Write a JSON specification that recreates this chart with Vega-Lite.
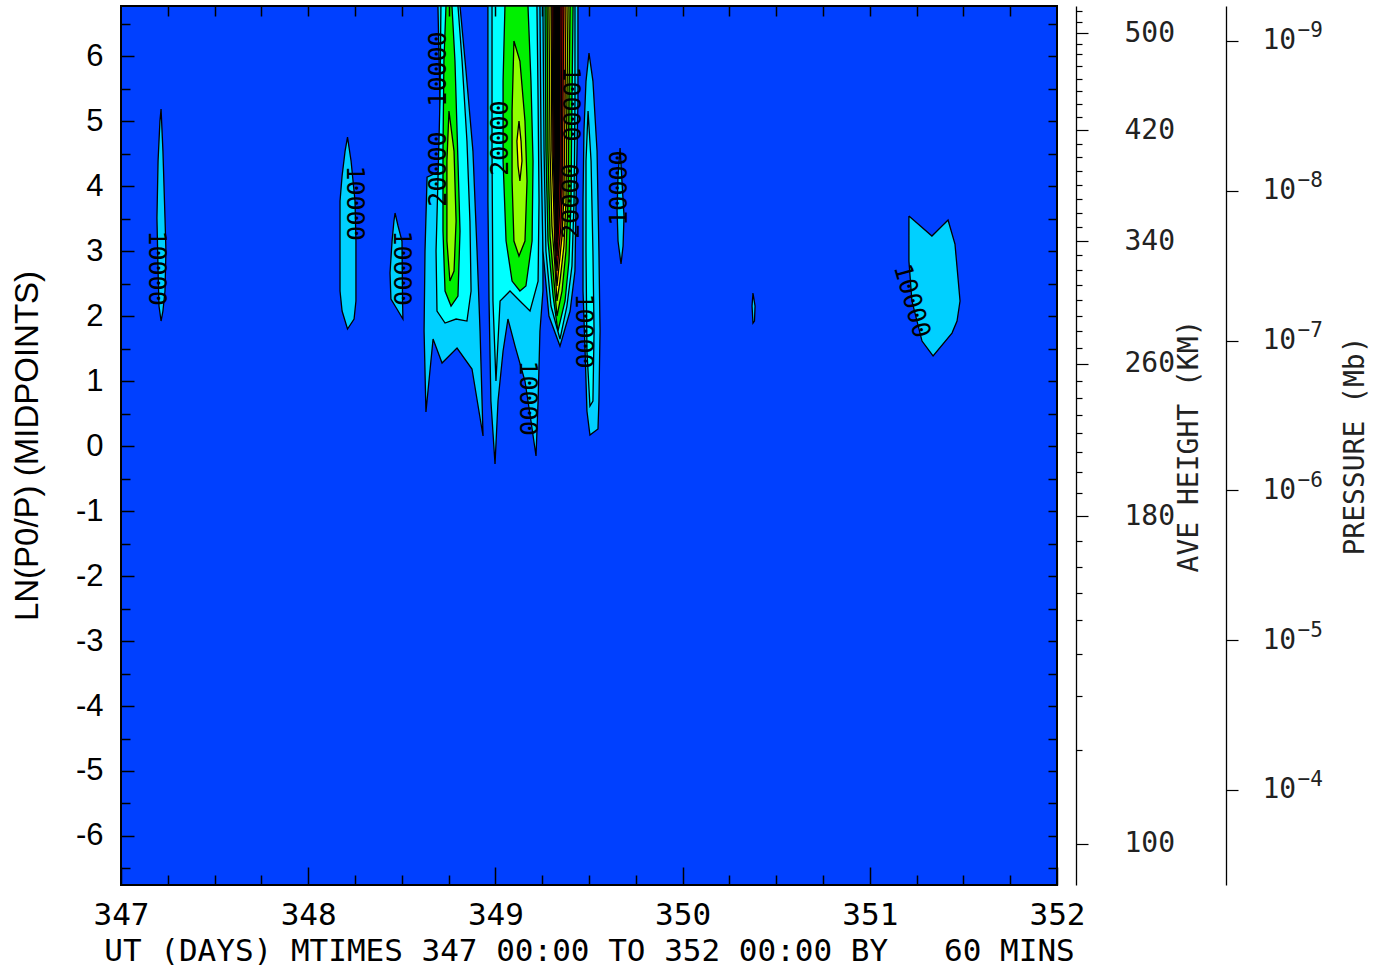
{
"$schema": "https://vega.github.io/schema/vega-lite/v6.json",
"background": "white",
"padding": {"left": 11, "top": 5, "right": 5, "bottom": 5},
"width": 936,
"height": 879,
"view": {"fill": "#0040FF", "stroke": "black", "strokeWidth": 2},
"datasets": {
"contours": [
{"poly":"b1","level":1,"i":0,"day":347.214,"ln":5.185},{"poly":"b1","level":1,"i":1,"day":347.224,"ln":4.538},{"poly":"b1","level":1,"i":2,"day":347.235,"ln":3.508},{"poly":"b1","level":1,"i":3,"day":347.240,"ln":3.0},{"poly":"b1","level":1,"i":4,"day":347.235,"ln":2.385},{"poly":"b1","level":1,"i":5,"day":347.224,"ln":2.077},{"poly":"b1","level":1,"i":6,"day":347.214,"ln":1.923},{"poly":"b1","level":1,"i":7,"day":347.203,"ln":2.154},{"poly":"b1","level":1,"i":8,"day":347.198,"ln":2.692},{"poly":"b1","level":1,"i":9,"day":347.192,"ln":3.508},{"poly":"b1","level":1,"i":10,"day":347.198,"ln":4.385},{"poly":"b1","level":1,"i":11,"day":347.208,"ln":5.0},{"poly":"b1","level":1,"i":12,"day":347.214,"ln":5.185},
{"poly":"b2","level":1,"i":0,"day":348.210,"ln":4.754},{"poly":"b2","level":1,"i":1,"day":348.229,"ln":4.385},{"poly":"b2","level":1,"i":2,"day":348.250,"ln":3.769},{"poly":"b2","level":1,"i":3,"day":348.255,"ln":3.154},{"poly":"b2","level":1,"i":4,"day":348.255,"ln":2.231},{"poly":"b2","level":1,"i":5,"day":348.245,"ln":1.954},{"poly":"b2","level":1,"i":6,"day":348.210,"ln":1.8},{"poly":"b2","level":1,"i":7,"day":348.181,"ln":2.077},{"poly":"b2","level":1,"i":8,"day":348.170,"ln":2.385},{"poly":"b2","level":1,"i":9,"day":348.170,"ln":3.769},{"poly":"b2","level":1,"i":10,"day":348.181,"ln":4.154},{"poly":"b2","level":1,"i":11,"day":348.197,"ln":4.538},{"poly":"b2","level":1,"i":12,"day":348.210,"ln":4.754},
{"poly":"b3","level":1,"i":0,"day":348.464,"ln":3.585},{"poly":"b3","level":1,"i":1,"day":348.480,"ln":3.385},{"poly":"b3","level":1,"i":2,"day":348.501,"ln":3.154},{"poly":"b3","level":1,"i":3,"day":348.504,"ln":2.231},{"poly":"b3","level":1,"i":4,"day":348.506,"ln":1.954},{"poly":"b3","level":1,"i":5,"day":348.474,"ln":2.108},{"poly":"b3","level":1,"i":6,"day":348.442,"ln":2.262},{"poly":"b3","level":1,"i":7,"day":348.437,"ln":2.662},{"poly":"b3","level":1,"i":8,"day":348.448,"ln":3.154},{"poly":"b3","level":1,"i":9,"day":348.458,"ln":3.462},{"poly":"b3","level":1,"i":10,"day":348.464,"ln":3.585},
{"poly":"b4a","level":1,"i":0,"day":348.693,"ln":6.769},{"poly":"b4a","level":1,"i":1,"day":348.811,"ln":6.769},{"poly":"b4a","level":1,"i":2,"day":348.843,"ln":5.769},{"poly":"b4a","level":1,"i":3,"day":348.880,"ln":4.538},{"poly":"b4a","level":1,"i":4,"day":348.902,"ln":3.0},{"poly":"b4a","level":1,"i":5,"day":348.918,"ln":1.769},{"poly":"b4a","level":1,"i":6,"day":348.934,"ln":0.154},{"poly":"b4a","level":1,"i":7,"day":348.875,"ln":1.185},{"poly":"b4a","level":1,"i":8,"day":348.795,"ln":1.508},{"poly":"b4a","level":1,"i":9,"day":348.715,"ln":1.277},{"poly":"b4a","level":1,"i":10,"day":348.667,"ln":1.646},{"poly":"b4a","level":1,"i":11,"day":348.629,"ln":0.523},{"poly":"b4a","level":1,"i":12,"day":348.619,"ln":1.769},{"poly":"b4a","level":1,"i":13,"day":348.624,"ln":3.0},{"poly":"b4a","level":1,"i":14,"day":348.635,"ln":4.138},{"poly":"b4a","level":1,"i":15,"day":348.704,"ln":4.231},{"poly":"b4a","level":1,"i":16,"day":348.704,"ln":5.308},{"poly":"b4a","level":1,"i":17,"day":348.693,"ln":6.769},
{"poly":"b4b","level":2,"i":0,"day":348.709,"ln":6.769},{"poly":"b4b","level":2,"i":1,"day":348.800,"ln":6.769},{"poly":"b4b","level":2,"i":2,"day":348.822,"ln":5.923},{"poly":"b4b","level":2,"i":3,"day":348.848,"ln":4.692},{"poly":"b4b","level":2,"i":4,"day":348.864,"ln":3.462},{"poly":"b4b","level":2,"i":5,"day":348.870,"ln":2.385},{"poly":"b4b","level":2,"i":6,"day":348.848,"ln":1.923},{"poly":"b4b","level":2,"i":7,"day":348.790,"ln":1.954},{"poly":"b4b","level":2,"i":8,"day":348.731,"ln":1.892},{"poly":"b4b","level":2,"i":9,"day":348.688,"ln":2.077},{"poly":"b4b","level":2,"i":10,"day":348.683,"ln":3.0},{"poly":"b4b","level":2,"i":11,"day":348.693,"ln":4.077},{"poly":"b4b","level":2,"i":12,"day":348.704,"ln":5.308},{"poly":"b4b","level":2,"i":13,"day":348.709,"ln":6.769},
{"poly":"b4c","level":3,"i":0,"day":348.736,"ln":6.769},{"poly":"b4c","level":3,"i":1,"day":348.768,"ln":6.769},{"poly":"b4c","level":3,"i":2,"day":348.784,"ln":5.923},{"poly":"b4c","level":3,"i":3,"day":348.800,"ln":4.385},{"poly":"b4c","level":3,"i":4,"day":348.811,"ln":3.308},{"poly":"b4c","level":3,"i":5,"day":348.800,"ln":2.308},{"poly":"b4c","level":3,"i":6,"day":348.763,"ln":2.154},{"poly":"b4c","level":3,"i":7,"day":348.731,"ln":2.385},{"poly":"b4c","level":3,"i":8,"day":348.720,"ln":3.308},{"poly":"b4c","level":3,"i":9,"day":348.720,"ln":4.538},{"poly":"b4c","level":3,"i":10,"day":348.725,"ln":5.923},{"poly":"b4c","level":3,"i":11,"day":348.736,"ln":6.769},
{"poly":"b4d","level":4,"i":0,"day":348.752,"ln":5.154},{"poly":"b4d","level":4,"i":1,"day":348.779,"ln":4.538},{"poly":"b4d","level":4,"i":2,"day":348.790,"ln":3.462},{"poly":"b4d","level":4,"i":3,"day":348.779,"ln":2.692},{"poly":"b4d","level":4,"i":4,"day":348.757,"ln":2.538},{"poly":"b4d","level":4,"i":5,"day":348.741,"ln":3.154},{"poly":"b4d","level":4,"i":6,"day":348.741,"ln":4.385},{"poly":"b4d","level":4,"i":7,"day":348.752,"ln":5.154},
{"poly":"b5a","level":1,"i":0,"day":348.960,"ln":6.769},{"poly":"b5a","level":1,"i":1,"day":349.244,"ln":6.769},{"poly":"b5a","level":1,"i":2,"day":349.249,"ln":5.308},{"poly":"b5a","level":1,"i":3,"day":349.254,"ln":3.769},{"poly":"b5a","level":1,"i":4,"day":349.254,"ln":2.385},{"poly":"b5a","level":1,"i":5,"day":349.238,"ln":1.769},{"poly":"b5a","level":1,"i":6,"day":349.228,"ln":0.692},{"poly":"b5a","level":1,"i":7,"day":349.217,"ln":-0.154},{"poly":"b5a","level":1,"i":8,"day":349.190,"ln":0.385},{"poly":"b5a","level":1,"i":9,"day":349.158,"ln":1.0},{"poly":"b5a","level":1,"i":10,"day":349.105,"ln":1.538},{"poly":"b5a","level":1,"i":11,"day":349.067,"ln":1.954},{"poly":"b5a","level":1,"i":12,"day":349.041,"ln":1.462},{"poly":"b5a","level":1,"i":13,"day":349.014,"ln":0.692},{"poly":"b5a","level":1,"i":14,"day":348.998,"ln":-0.277},{"poly":"b5a","level":1,"i":15,"day":348.976,"ln":0.692},{"poly":"b5a","level":1,"i":16,"day":348.966,"ln":2.231},{"poly":"b5a","level":1,"i":17,"day":348.960,"ln":3.769},{"poly":"b5a","level":1,"i":18,"day":348.960,"ln":5.308},{"poly":"b5a","level":1,"i":19,"day":348.960,"ln":6.769},
{"poly":"b5b","level":2,"i":0,"day":348.982,"ln":6.769},{"poly":"b5b","level":2,"i":1,"day":349.222,"ln":6.769},{"poly":"b5b","level":2,"i":2,"day":349.228,"ln":5.308},{"poly":"b5b","level":2,"i":3,"day":349.233,"ln":3.769},{"poly":"b5b","level":2,"i":4,"day":349.228,"ln":2.538},{"poly":"b5b","level":2,"i":5,"day":349.185,"ln":2.077},{"poly":"b5b","level":2,"i":6,"day":349.131,"ln":2.231},{"poly":"b5b","level":2,"i":7,"day":349.078,"ln":2.385},{"poly":"b5b","level":2,"i":8,"day":349.025,"ln":2.231},{"poly":"b5b","level":2,"i":9,"day":349.003,"ln":1.0},{"poly":"b5b","level":2,"i":10,"day":348.987,"ln":2.231},{"poly":"b5b","level":2,"i":11,"day":348.982,"ln":4.538},{"poly":"b5b","level":2,"i":12,"day":348.982,"ln":6.769},
{"poly":"b5c","level":3,"i":0,"day":349.051,"ln":6.769},{"poly":"b5c","level":3,"i":1,"day":349.174,"ln":6.769},{"poly":"b5c","level":3,"i":2,"day":349.190,"ln":5.615},{"poly":"b5c","level":3,"i":3,"day":349.201,"ln":4.385},{"poly":"b5c","level":3,"i":4,"day":349.196,"ln":3.154},{"poly":"b5c","level":3,"i":5,"day":349.163,"ln":2.462},{"poly":"b5c","level":3,"i":6,"day":349.131,"ln":2.385},{"poly":"b5c","level":3,"i":7,"day":349.089,"ln":2.538},{"poly":"b5c","level":3,"i":8,"day":349.057,"ln":3.154},{"poly":"b5c","level":3,"i":9,"day":349.041,"ln":4.385},{"poly":"b5c","level":3,"i":10,"day":349.041,"ln":5.615},{"poly":"b5c","level":3,"i":11,"day":349.051,"ln":6.769},
{"poly":"b5d","level":4,"i":0,"day":349.099,"ln":6.231},{"poly":"b5d","level":4,"i":1,"day":349.131,"ln":5.923},{"poly":"b5d","level":4,"i":2,"day":349.158,"ln":5.0},{"poly":"b5d","level":4,"i":3,"day":349.169,"ln":4.077},{"poly":"b5d","level":4,"i":4,"day":349.158,"ln":3.154},{"poly":"b5d","level":4,"i":5,"day":349.126,"ln":2.923},{"poly":"b5d","level":4,"i":6,"day":349.099,"ln":3.154},{"poly":"b5d","level":4,"i":7,"day":349.089,"ln":4.077},{"poly":"b5d","level":4,"i":8,"day":349.089,"ln":5.154},{"poly":"b5d","level":4,"i":9,"day":349.099,"ln":6.231},
{"poly":"b5e","level":5,"i":0,"day":349.126,"ln":5.0},{"poly":"b5e","level":5,"i":1,"day":349.137,"ln":4.692},{"poly":"b5e","level":5,"i":2,"day":349.142,"ln":4.385},{"poly":"b5e","level":5,"i":3,"day":349.131,"ln":4.077},{"poly":"b5e","level":5,"i":4,"day":349.121,"ln":4.308},{"poly":"b5e","level":5,"i":5,"day":349.115,"ln":4.692},{"poly":"b5e","level":5,"i":6,"day":349.126,"ln":5.0},
{"poly":"b6a","level":1,"i":0,"day":349.238,"ln":6.769},{"poly":"b6a","level":1,"i":1,"day":349.441,"ln":6.769},{"poly":"b6a","level":1,"i":2,"day":349.441,"ln":5.308},{"poly":"b6a","level":1,"i":3,"day":349.431,"ln":3.769},{"poly":"b6a","level":1,"i":4,"day":349.425,"ln":2.692},{"poly":"b6a","level":1,"i":5,"day":349.399,"ln":2.077},{"poly":"b6a","level":1,"i":6,"day":349.345,"ln":1.538},{"poly":"b6a","level":1,"i":7,"day":349.286,"ln":2.0},{"poly":"b6a","level":1,"i":8,"day":349.254,"ln":3.0},{"poly":"b6a","level":1,"i":9,"day":349.244,"ln":4.538},{"poly":"b6a","level":1,"i":10,"day":349.238,"ln":6.769},
{"poly":"b6b","level":2,"i":0,"day":349.254,"ln":6.769},{"poly":"b6b","level":2,"i":1,"day":349.425,"ln":6.769},{"poly":"b6b","level":2,"i":2,"day":349.425,"ln":5.308},{"poly":"b6b","level":2,"i":3,"day":349.420,"ln":3.769},{"poly":"b6b","level":2,"i":4,"day":349.409,"ln":2.769},{"poly":"b6b","level":2,"i":5,"day":349.382,"ln":2.154},{"poly":"b6b","level":2,"i":6,"day":349.345,"ln":1.646},{"poly":"b6b","level":2,"i":7,"day":349.297,"ln":2.154},{"poly":"b6b","level":2,"i":8,"day":349.270,"ln":3.0},{"poly":"b6b","level":2,"i":9,"day":349.260,"ln":4.538},{"poly":"b6b","level":2,"i":10,"day":349.254,"ln":6.769},
{"poly":"b6c","level":3,"i":0,"day":349.265,"ln":6.769},{"poly":"b6c","level":3,"i":1,"day":349.415,"ln":6.769},{"poly":"b6c","level":3,"i":2,"day":349.409,"ln":5.308},{"poly":"b6c","level":3,"i":3,"day":349.404,"ln":3.769},{"poly":"b6c","level":3,"i":4,"day":349.393,"ln":2.846},{"poly":"b6c","level":3,"i":5,"day":349.372,"ln":2.231},{"poly":"b6c","level":3,"i":6,"day":349.334,"ln":1.769},{"poly":"b6c","level":3,"i":7,"day":349.308,"ln":2.308},{"poly":"b6c","level":3,"i":8,"day":349.281,"ln":3.154},{"poly":"b6c","level":3,"i":9,"day":349.270,"ln":4.538},{"poly":"b6c","level":3,"i":10,"day":349.265,"ln":6.769},
{"poly":"b6d","level":4,"i":0,"day":349.276,"ln":6.769},{"poly":"b6d","level":4,"i":1,"day":349.399,"ln":6.769},{"poly":"b6d","level":4,"i":2,"day":349.393,"ln":5.308},{"poly":"b6d","level":4,"i":3,"day":349.388,"ln":3.769},{"poly":"b6d","level":4,"i":4,"day":349.377,"ln":3.0},{"poly":"b6d","level":4,"i":5,"day":349.356,"ln":2.385},{"poly":"b6d","level":4,"i":6,"day":349.329,"ln":2.0},{"poly":"b6d","level":4,"i":7,"day":349.313,"ln":2.538},{"poly":"b6d","level":4,"i":8,"day":349.292,"ln":3.231},{"poly":"b6d","level":4,"i":9,"day":349.281,"ln":4.538},{"poly":"b6d","level":4,"i":10,"day":349.276,"ln":6.769},
{"poly":"b6e","level":5,"i":0,"day":349.286,"ln":6.769},{"poly":"b6e","level":5,"i":1,"day":349.388,"ln":6.769},{"poly":"b6e","level":5,"i":2,"day":349.382,"ln":5.308},{"poly":"b6e","level":5,"i":3,"day":349.377,"ln":3.769},{"poly":"b6e","level":5,"i":4,"day":349.366,"ln":3.077},{"poly":"b6e","level":5,"i":5,"day":349.345,"ln":2.538},{"poly":"b6e","level":5,"i":6,"day":349.329,"ln":2.231},{"poly":"b6e","level":5,"i":7,"day":349.318,"ln":2.769},{"poly":"b6e","level":5,"i":8,"day":349.302,"ln":3.385},{"poly":"b6e","level":5,"i":9,"day":349.292,"ln":4.538},{"poly":"b6e","level":5,"i":10,"day":349.286,"ln":6.769},
{"poly":"b6f","level":6,"i":0,"day":349.297,"ln":6.769},{"poly":"b6f","level":6,"i":1,"day":349.377,"ln":6.769},{"poly":"b6f","level":6,"i":2,"day":349.372,"ln":5.308},{"poly":"b6f","level":6,"i":3,"day":349.366,"ln":3.846},{"poly":"b6f","level":6,"i":4,"day":349.356,"ln":3.231},{"poly":"b6f","level":6,"i":5,"day":349.340,"ln":2.769},{"poly":"b6f","level":6,"i":6,"day":349.329,"ln":2.462},{"poly":"b6f","level":6,"i":7,"day":349.318,"ln":3.0},{"poly":"b6f","level":6,"i":8,"day":349.313,"ln":3.538},{"poly":"b6f","level":6,"i":9,"day":349.302,"ln":4.538},{"poly":"b6f","level":6,"i":10,"day":349.297,"ln":6.769},
{"poly":"b6g","level":7,"i":0,"day":349.302,"ln":6.769},{"poly":"b6g","level":7,"i":1,"day":349.366,"ln":6.769},{"poly":"b6g","level":7,"i":2,"day":349.361,"ln":5.308},{"poly":"b6g","level":7,"i":3,"day":349.356,"ln":3.923},{"poly":"b6g","level":7,"i":4,"day":349.350,"ln":3.385},{"poly":"b6g","level":7,"i":5,"day":349.329,"ln":2.692},{"poly":"b6g","level":7,"i":6,"day":349.318,"ln":3.231},{"poly":"b6g","level":7,"i":7,"day":349.318,"ln":3.692},{"poly":"b6g","level":7,"i":8,"day":349.308,"ln":4.538},{"poly":"b6g","level":7,"i":9,"day":349.302,"ln":6.769},
{"poly":"b6h","level":8,"i":0,"day":349.308,"ln":6.769},{"poly":"b6h","level":8,"i":1,"day":349.356,"ln":6.769},{"poly":"b6h","level":8,"i":2,"day":349.353,"ln":5.308},{"poly":"b6h","level":8,"i":3,"day":349.350,"ln":4.0},{"poly":"b6h","level":8,"i":4,"day":349.340,"ln":3.462},{"poly":"b6h","level":8,"i":5,"day":349.329,"ln":2.923},{"poly":"b6h","level":8,"i":6,"day":349.321,"ln":3.462},{"poly":"b6h","level":8,"i":7,"day":349.318,"ln":3.923},{"poly":"b6h","level":8,"i":8,"day":349.313,"ln":4.538},{"poly":"b6h","level":8,"i":9,"day":349.308,"ln":6.769},
{"poly":"b6i","level":9,"i":0,"day":349.313,"ln":6.769},{"poly":"b6i","level":9,"i":1,"day":349.345,"ln":6.769},{"poly":"b6i","level":9,"i":2,"day":349.345,"ln":5.308},{"poly":"b6i","level":9,"i":3,"day":349.340,"ln":4.077},{"poly":"b6i","level":9,"i":4,"day":349.329,"ln":3.154},{"poly":"b6i","level":9,"i":5,"day":349.321,"ln":3.923},{"poly":"b6i","level":9,"i":6,"day":349.318,"ln":4.538},{"poly":"b6i","level":9,"i":7,"day":349.313,"ln":6.769},
{"poly":"b7a","level":1,"i":0,"day":349.500,"ln":6.046},{"poly":"b7a","level":1,"i":1,"day":349.521,"ln":5.615},{"poly":"b7a","level":1,"i":2,"day":349.543,"ln":4.538},{"poly":"b7a","level":1,"i":3,"day":349.553,"ln":3.0},{"poly":"b7a","level":1,"i":4,"day":349.559,"ln":1.769},{"poly":"b7a","level":1,"i":5,"day":349.553,"ln":0.692},{"poly":"b7a","level":1,"i":6,"day":349.548,"ln":0.262},{"poly":"b7a","level":1,"i":7,"day":349.505,"ln":0.169},{"poly":"b7a","level":1,"i":8,"day":349.489,"ln":0.538},{"poly":"b7a","level":1,"i":9,"day":349.479,"ln":1.462},{"poly":"b7a","level":1,"i":10,"day":349.468,"ln":2.385},{"poly":"b7a","level":1,"i":11,"day":349.468,"ln":3.769},{"poly":"b7a","level":1,"i":12,"day":349.473,"ln":4.846},{"poly":"b7a","level":1,"i":13,"day":349.484,"ln":5.615},{"poly":"b7a","level":1,"i":14,"day":349.500,"ln":6.046},
{"poly":"b7b","level":2,"i":0,"day":349.495,"ln":5.154},{"poly":"b7b","level":2,"i":1,"day":349.511,"ln":4.385},{"poly":"b7b","level":2,"i":2,"day":349.521,"ln":3.0},{"poly":"b7b","level":2,"i":3,"day":349.527,"ln":1.769},{"poly":"b7b","level":2,"i":4,"day":349.521,"ln":0.692},{"poly":"b7b","level":2,"i":5,"day":349.505,"ln":0.615},{"poly":"b7b","level":2,"i":6,"day":349.489,"ln":1.462},{"poly":"b7b","level":2,"i":7,"day":349.484,"ln":3.0},{"poly":"b7b","level":2,"i":8,"day":349.484,"ln":4.385},{"poly":"b7b","level":2,"i":9,"day":349.495,"ln":5.154},
{"poly":"b8","level":1,"i":0,"day":349.666,"ln":4.585},{"poly":"b8","level":1,"i":1,"day":349.676,"ln":4.077},{"poly":"b8","level":1,"i":2,"day":349.687,"ln":3.538},{"poly":"b8","level":1,"i":3,"day":349.682,"ln":3.077},{"poly":"b8","level":1,"i":4,"day":349.671,"ln":2.8},{"poly":"b8","level":1,"i":5,"day":349.655,"ln":3.154},{"poly":"b8","level":1,"i":6,"day":349.650,"ln":3.615},{"poly":"b8","level":1,"i":7,"day":349.655,"ln":4.154},{"poly":"b8","level":1,"i":8,"day":349.666,"ln":4.585},
{"poly":"b9","level":1,"i":0,"day":350.376,"ln":2.354},{"poly":"b9","level":1,"i":1,"day":350.387,"ln":2.154},{"poly":"b9","level":1,"i":2,"day":350.384,"ln":1.923},{"poly":"b9","level":1,"i":3,"day":350.376,"ln":1.892},{"poly":"b9","level":1,"i":4,"day":350.371,"ln":2.154},{"poly":"b9","level":1,"i":5,"day":350.376,"ln":2.354},
{"poly":"b10","level":1,"i":0,"day":351.209,"ln":3.538},{"poly":"b10","level":1,"i":1,"day":351.332,"ln":3.231},{"poly":"b10","level":1,"i":2,"day":351.418,"ln":3.477},{"poly":"b10","level":1,"i":3,"day":351.455,"ln":3.108},{"poly":"b10","level":1,"i":4,"day":351.482,"ln":2.231},{"poly":"b10","level":1,"i":5,"day":351.466,"ln":1.923},{"poly":"b10","level":1,"i":6,"day":351.439,"ln":1.738},{"poly":"b10","level":1,"i":7,"day":351.338,"ln":1.385},{"poly":"b10","level":1,"i":8,"day":351.279,"ln":1.615},{"poly":"b10","level":1,"i":9,"day":351.225,"ln":2.231},{"poly":"b10","level":1,"i":10,"day":351.209,"ln":2.846},{"poly":"b10","level":1,"i":11,"day":351.209,"ln":3.538}
],
"labels_down": [
{"day":347.192,"ln":2.738,"label":"10000"},
{"day":348.250,"ln":3.738,"label":"10000"},
{"day":348.501,"ln":2.738,"label":"10000"},
{"day":349.473,"ln":1.769,"label":"10000"},
{"day":349.174,"ln":0.738,"label":"10000"},
{"day":349.404,"ln":5.262,"label":"10000"}
],
"labels_up": [
{"day":348.693,"ln":5.8,"label":"10000"},
{"day":348.693,"ln":4.262,"label":"20000"},
{"day":349.025,"ln":4.738,"label":"20000"},
{"day":349.404,"ln":3.769,"label":"20000"},
{"day":349.660,"ln":3.969,"label":"10000"}
],
"labels_tilt": [
{"day":351.225,"ln":2.231,"label":"10000"}
],
"heights": [
{"km":100,"ln":-6.123},{"km":110,"ln":-4.677},{"km":120,"ln":-3.846},{"km":130,"ln":-3.2},{"km":140,"ln":-2.677},{"km":150,"ln":-2.262},{"km":160,"ln":-1.862},{"km":170,"ln":-1.462},{"km":180,"ln":-1.077},{"km":190,"ln":-0.723},{"km":200,"ln":-0.4},{"km":210,"ln":-0.092},{"km":220,"ln":0.2},{"km":230,"ln":0.477},{"km":240,"ln":0.746},{"km":250,"ln":1.008},{"km":260,"ln":1.262},{"km":270,"ln":1.515},{"km":280,"ln":1.763},{"km":290,"ln":2.005},{"km":300,"ln":2.242},{"km":310,"ln":2.475},{"km":320,"ln":2.706},{"km":330,"ln":2.932},{"km":340,"ln":3.154},{"km":350,"ln":3.374},{"km":360,"ln":3.591},{"km":370,"ln":3.806},{"km":380,"ln":4.02},{"km":390,"ln":4.232},{"km":400,"ln":4.443},{"km":410,"ln":4.652},{"km":420,"ln":4.862},{"km":430,"ln":5.062},{"km":440,"ln":5.266},{"km":450,"ln":5.462},{"km":460,"ln":5.646},{"km":470,"ln":5.842},{"km":480,"ln":6.026},{"km":490,"ln":6.19},{"km":500,"ln":6.354},{"km":510,"ln":6.518},{"km":520,"ln":6.692}
],
"pressures": [
{"mb":1e-9},{"mb":1e-8},{"mb":1e-7},{"mb":1e-6},{"mb":1e-5},{"mb":1e-4}
]
},
"encoding": {
"x": {"field": "day", "type": "quantitative", "scale": {"domain": [347, 352], "nice": false, "zero": false}, "axis": null},
"y": {"field": "ln", "type": "quantitative", "scale": {"domain": [-6.754, 6.77], "nice": false, "zero": false}, "axis": null}
},
"resolve": {"scale": {"y": "independent"}, "axis": {"x": "independent", "y": "independent"}},
"layer": [
{"data": {"name": "contours"}, "transform": [{"filter": "datum.level == 1"}], "mark": {"type": "line", "fill": "#00D0FF", "stroke": "black", "strokeWidth": 1.3, "clip": true}, "encoding": {"detail": {"field": "poly", "type": "nominal"}, "order": {"field": "i", "type": "quantitative"}}},
{"data": {"name": "contours"}, "transform": [{"filter": "datum.level == 2"}], "mark": {"type": "line", "fill": "#00FFFF", "stroke": "black", "strokeWidth": 1.3, "clip": true}, "encoding": {"detail": {"field": "poly", "type": "nominal"}, "order": {"field": "i", "type": "quantitative"}}},
{"data": {"name": "contours"}, "transform": [{"filter": "datum.level == 3"}], "mark": {"type": "line", "fill": "#00F000", "stroke": "black", "strokeWidth": 1.3, "clip": true}, "encoding": {"detail": {"field": "poly", "type": "nominal"}, "order": {"field": "i", "type": "quantitative"}}},
{"data": {"name": "contours"}, "transform": [{"filter": "datum.level == 4"}], "mark": {"type": "line", "fill": "#90FF00", "stroke": "black", "strokeWidth": 1.3, "clip": true}, "encoding": {"detail": {"field": "poly", "type": "nominal"}, "order": {"field": "i", "type": "quantitative"}}},
{"data": {"name": "contours"}, "transform": [{"filter": "datum.level == 5"}], "mark": {"type": "line", "fill": "#FFFF00", "stroke": "black", "strokeWidth": 1.3, "clip": true}, "encoding": {"detail": {"field": "poly", "type": "nominal"}, "order": {"field": "i", "type": "quantitative"}}},
{"data": {"name": "contours"}, "transform": [{"filter": "datum.level == 6"}], "mark": {"type": "line", "fill": "#FF8000", "stroke": "black", "strokeWidth": 1.3, "clip": true}, "encoding": {"detail": {"field": "poly", "type": "nominal"}, "order": {"field": "i", "type": "quantitative"}}},
{"data": {"name": "contours"}, "transform": [{"filter": "datum.level == 7"}], "mark": {"type": "line", "fill": "#FF0000", "stroke": "black", "strokeWidth": 1.3, "clip": true}, "encoding": {"detail": {"field": "poly", "type": "nominal"}, "order": {"field": "i", "type": "quantitative"}}},
{"data": {"name": "contours"}, "transform": [{"filter": "datum.level == 8"}], "mark": {"type": "line", "fill": "#900000", "stroke": "black", "strokeWidth": 1.3, "clip": true}, "encoding": {"detail": {"field": "poly", "type": "nominal"}, "order": {"field": "i", "type": "quantitative"}}},
{"data": {"name": "contours"}, "transform": [{"filter": "datum.level == 9"}], "mark": {"type": "line", "fill": "#000000", "stroke": "black", "strokeWidth": 1.3, "clip": true}, "encoding": {"detail": {"field": "poly", "type": "nominal"}, "order": {"field": "i", "type": "quantitative"}}},
{"data": {"name": "labels_down"}, "mark": {"type": "text", "angle": 90, "font": "DejaVu Sans Mono", "fontSize": 25, "color": "black", "align": "center", "baseline": "middle"}, "encoding": {"text": {"field": "label"}}},
{"data": {"name": "labels_up"}, "mark": {"type": "text", "angle": 270, "font": "DejaVu Sans Mono", "fontSize": 25, "color": "black", "align": "center", "baseline": "middle"}, "encoding": {"text": {"field": "label"}}},
{"data": {"name": "labels_tilt"}, "mark": {"type": "text", "angle": 74, "font": "DejaVu Sans Mono", "fontSize": 25, "color": "black", "align": "center", "baseline": "middle"}, "encoding": {"text": {"field": "label"}}},
{"data": {"values": [{"day": 347, "ln": 0}]}, "mark": {"type": "point", "opacity": 0},
"encoding": {
"x": {"field": "day", "type": "quantitative", "scale": {"domain": [347, 352], "nice": false, "zero": false},
"axis": {"orient": "bottom", "values": [347, 348, 349, 350, 351, 352], "labelExpr": "'' + datum.value", "tickSize": -18, "tickWidth": 1.5, "tickColor": "black", "domain": false, "grid": false, "labelFont": "DejaVu Sans Mono", "labelFontSize": 31, "labelColor": "black", "labelPadding": 33, "labelFlush": false, "labelOverlap": false, "labelBound": false, "title": "UT (DAYS) MTIMES 347 00:00 TO 352 00:00 BY\u00a0\u00a0\u00a060 MINS", "titleFont": "DejaVu Sans Mono", "titleFontSize": 31, "titleFontWeight": "normal", "titleColor": "black", "titlePadding": 6, "zindex": 1}},
"y": {"field": "ln", "type": "quantitative", "scale": {"domain": [-6.754, 6.77], "nice": false, "zero": false},
"axis": {"orient": "left", "values": [-6, -5, -4, -3, -2, -1, 0, 1, 2, 3, 4, 5, 6], "labelExpr": "'' + datum.value", "tickSize": -13, "tickWidth": 1.5, "tickColor": "black", "domain": false, "grid": false, "labelFont": "Liberation Sans", "labelFontSize": 31, "labelColor": "black", "labelPadding": 31, "labelOverlap": false, "labelBound": false, "title": "LN(P0/P) (MIDPOINTS)", "titleFont": "Liberation Sans", "titleFontSize": 33, "titleFontWeight": "normal", "titleColor": "black", "titlePadding": 31, "zindex": 1}}
}},
{"data": {"values": [{"day": 347, "ln": 0}]}, "mark": {"type": "point", "opacity": 0},
"encoding": {
"x": {"field": "day", "type": "quantitative", "scale": {"domain": [347, 352], "nice": false, "zero": false},
"axis": {"orient": "bottom", "values": [347.25, 347.5, 347.75, 348.25, 348.5, 348.75, 349.25, 349.5, 349.75, 350.25, 350.5, 350.75, 351.25, 351.5, 351.75], "tickSize": -10, "tickWidth": 1.5, "tickColor": "black", "domain": false, "grid": false, "labels": false, "title": null, "zindex": 1}},
"y": {"field": "ln", "type": "quantitative", "scale": {"domain": [-6.754, 6.77], "nice": false, "zero": false},
"axis": {"orient": "left", "values": [-6.5, -5.5, -4.5, -3.5, -2.5, -1.5, -0.5, 0.5, 1.5, 2.5, 3.5, 4.5, 5.5, 6.5], "tickSize": -9, "tickWidth": 1.5, "tickColor": "black", "domain": false, "grid": false, "labels": false, "title": null, "zindex": 1}}
}},
{"data": {"values": [{"day": 347, "ln": 0}]}, "mark": {"type": "point", "opacity": 0},
"encoding": {
"x": {"field": "day", "type": "quantitative", "scale": {"domain": [347, 352], "nice": false, "zero": false},
"axis": {"orient": "top", "values": [347.25, 347.5, 347.75, 348, 348.25, 348.5, 348.75, 349, 349.25, 349.5, 349.75, 350, 350.25, 350.5, 350.75, 351, 351.25, 351.5, 351.75], "tickSize": -10, "tickWidth": 1.5, "tickColor": "black", "domain": false, "grid": false, "labels": false, "title": null, "zindex": 1}},
"y": {"field": "ln", "type": "quantitative", "scale": {"domain": [-6.754, 6.77], "nice": false, "zero": false},
"axis": {"orient": "right", "values": [-6.5, -6, -5.5, -5, -4.5, -4, -3.5, -3, -2.5, -2, -1.5, -1, -0.5, 0, 0.5, 1, 1.5, 2, 2.5, 3, 3.5, 4, 4.5, 5, 5.5, 6, 6.5], "tickSize": -9, "tickWidth": 1.5, "tickColor": "black", "domain": false, "grid": false, "labels": false, "title": null, "zindex": 1}}
}},
{"data": {"name": "heights"}, "mark": {"type": "point", "opacity": 0},
"encoding": {
"x": {"value": 0},
"y": {"field": "ln", "type": "quantitative", "scale": {"domain": [-6.754, 6.77], "nice": false, "zero": false},
"axis": {"orient": "right", "offset": 19, "values": [-6.123, -1.077, 1.262, 3.154, 4.862, 6.354], "labelExpr": "['100','180','260','340','420','500'][indexof([-6.123, -1.077, 1.262, 3.154, 4.862, 6.354], datum.value)]", "tickSize": 12, "tickWidth": 1.2, "tickColor": "black", "domain": true, "domainColor": "black", "domainWidth": 1.3, "grid": false, "labelFont": "DejaVu Sans Mono", "labelFontSize": 28, "labelColor": "#222222", "labelPadding": 36, "labelOverlap": false, "labelBound": false, "title": "AVE HEIGHT (KM)", "titleFont": "DejaVu Sans Mono", "titleFontSize": 28, "titleFontWeight": "normal", "titleColor": "#222222", "titleAngle": 270, "titleBaseline": "top", "titlePadding": 1}}
}},
{"data": {"name": "heights"}, "mark": {"type": "point", "opacity": 0},
"encoding": {
"x": {"value": 0},
"y": {"field": "ln", "type": "quantitative", "scale": {"domain": [-6.754, 6.77], "nice": false, "zero": false},
"axis": {"orient": "right", "offset": 19, "values": [-4.677, -3.846, -3.2, -2.677, -2.262, -1.862, -1.462, -0.723, -0.4, -0.092, 0.2, 0.477, 0.746, 1.008, 1.515, 1.763, 2.005, 2.242, 2.475, 2.706, 2.932, 3.374, 3.591, 3.806, 4.02, 4.232, 4.443, 4.652, 5.062, 5.266, 5.462, 5.646, 5.842, 6.026, 6.19, 6.518, 6.692], "tickSize": 6, "tickWidth": 1.2, "tickColor": "black", "domain": false, "grid": false, "labels": false, "title": null}}
}},
{"data": {"name": "pressures"}, "mark": {"type": "point", "opacity": 0},
"encoding": {
"x": {"value": 0},
"y": {"field": "mb", "type": "quantitative", "scale": {"type": "log", "domain": [5.84e-10, 4.31e-4], "reverse": true, "nice": false},
"axis": {"orient": "right", "offset": 169, "values": [1e-9, 1e-8, 1e-7, 1e-6, 1e-5, 1e-4], "labelExpr": "'10'", "tickSize": 12, "tickWidth": 1.2, "tickColor": "black", "domain": true, "domainColor": "black", "domainWidth": 1.3, "grid": false, "labelFont": "DejaVu Sans Mono", "labelFontSize": 28, "labelColor": "#222222", "labelPadding": 24, "labelOverlap": false, "labelBound": false, "title": null}}
}},
{"data": {"name": "pressures"}, "mark": {"type": "point", "opacity": 0},
"encoding": {
"x": {"value": 0},
"y": {"field": "mb", "type": "quantitative", "scale": {"type": "log", "domain": [5.84e-10, 4.31e-4], "reverse": true, "nice": false},
"axis": {"orient": "right", "offset": 169, "values": [1e-9, 1e-8, 1e-7, 1e-6, 1e-5, 1e-4], "labelExpr": "'−' + round(-log(datum.value)/LN10)", "ticks": false, "domain": false, "grid": false, "labelFont": "DejaVu Sans Mono", "labelFontSize": 21, "labelColor": "#222222", "labelPadding": 71, "labelOffset": -10, "labelOverlap": false, "labelBound": false, "title": "PRESSURE (Mb)", "titleFont": "DejaVu Sans Mono", "titleFontSize": 28, "titleFontWeight": "normal", "titleColor": "#222222", "titleAngle": 270, "titleBaseline": "top", "titlePadding": 19}}
}}
]
}
